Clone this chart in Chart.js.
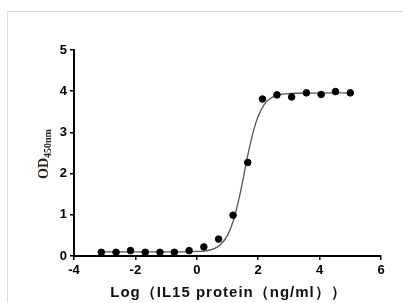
<!DOCTYPE html>
<html>
<head>
<meta charset="utf-8">
<script src="https://cdn.jsdelivr.net/npm/chart.js@4/dist/chart.umd.min.js"></script>
<style>
  html, body { margin: 0; padding: 0; background: #fff; overflow: hidden; }
  #wrap { position: relative; width: 403px; height: 303px; overflow: hidden; }
  #frame { position: absolute; left: 7px; top: 11px; width: 420px; height: 320px; border: 1px solid #dedede; }
  #od { position: absolute; left: 0; top: 0; }
</style>
</head>
<body>
<div id="wrap">
  <div id="frame"></div>
  <canvas id="od" width="403" height="303"></canvas>
</div>
<script>
// measured points: log dose vs OD450
const doseLog = [-3.11, -2.63, -2.16, -1.68, -1.20, -0.73, -0.25, 0.23, 0.71, 1.18, 1.66, 2.14, 2.61, 3.09, 3.57, 4.05, 4.52, 5.00];
const od450 = [0.09, 0.09, 0.13, 0.09, 0.09, 0.09, 0.13, 0.22, 0.41, 0.99, 2.27, 3.81, 3.91, 3.86, 3.96, 3.92, 3.99, 3.96];

// fitted curve
const curveX = [-3.11, -0.5, 0, 0.25, 0.5, 0.75, 1.0, 1.2, 1.4, 1.55, 1.7, 1.85, 2.0, 2.2, 2.4, 2.7, 3.2, 5.0];
const curveY = [0.10, 0.10, 0.11, 0.12, 0.16, 0.26, 0.50, 0.88, 1.48, 2.03, 2.58, 3.05, 3.39, 3.68, 3.83, 3.92, 3.95, 3.96];

const xTicks = [-4, -2, 0, 2, 4, 6];
const yTicks = [0, 1, 2, 3, 4, 5];
const xTitleText = "Log（IL15 protein（ng/ml））";

const tickFont = { family: "'Liberation Sans', Arial, sans-serif", size: 13, weight: "bold" };

// axis titles drawn by hand (subscript + wide spacing)
const axisTitles = {
  id: "axisTitles",
  afterDraw(chart) {
    const c = chart.ctx;
    const area = chart.chartArea;
    c.save();
    c.fillStyle = "#111";
    c.textAlign = "center";
    c.textBaseline = "alphabetic";
    c.font = "bold 15px 'Liberation Sans', Arial, sans-serif";
    c.letterSpacing = "1px";
    c.fillText(xTitleText, (area.left + area.right) / 2 + 1, 297);
    c.restore();

    c.save();
    c.translate(43, 154);
    c.rotate(-Math.PI / 2);
    c.fillStyle = "#2a1f18";
    c.textBaseline = "alphabetic";
    c.font = "bold 14px 'Liberation Serif', 'Times New Roman', serif";
    const w1 = c.measureText("OD").width;
    c.font = "bold 10px 'Liberation Serif', 'Times New Roman', serif";
    const w2 = c.measureText("450nm").width;
    const start = -(w1 + w2) / 2;
    c.font = "bold 14px 'Liberation Serif', 'Times New Roman', serif";
    c.fillText("OD", start, 5);
    c.font = "bold 10px 'Liberation Serif', 'Times New Roman', serif";
    c.fillText("450nm", start + w1, 8);
    c.restore();
  }
};

const ctx = document.getElementById("od").getContext("2d");
new Chart(ctx, {
  type: "scatter",
  data: {
    datasets: [
      {
        label: "data",
        data: doseLog.map((x, i) => ({ x: x, y: od450[i] })),
        backgroundColor: "#000",
        borderColor: "#000",
        pointRadius: 3.3,
        showLine: false,
      },
      {
        label: "fit",
        data: curveX.map((x, i) => ({ x: x, y: curveY[i] })),
        showLine: true,
        borderColor: "#555",
        borderWidth: 1.3,
        pointRadius: 0,
        cubicInterpolationMode: "monotone",
        fill: false,
      },
    ],
  },
  options: {
    responsive: false,
    animation: false,
    layout: { padding: { left: 0, top: 50, right: 22, bottom: 0 } },
    plugins: {
      legend: { display: false },
      tooltip: { enabled: false },
    },
    scales: {
      x: {
        type: "linear",
        min: -4,
        max: 6,
        afterBuildTicks: (s) => { s.ticks = xTicks.map((v) => ({ value: v })); },
        afterFit: (s) => { s.height = 47; },
        border: { display: true, color: "#000", width: 2 },
        grid: { drawOnChartArea: false, drawTicks: true, tickLength: 4, color: "#000", lineWidth: 1.5 },
        ticks: { color: "#000", font: tickFont, padding: 3 },
      },
      y: {
        type: "linear",
        min: 0,
        max: 5,
        afterBuildTicks: (s) => { s.ticks = yTicks.map((v) => ({ value: v })); },
        afterFit: (s) => { s.width = 74; },
        border: { display: true, color: "#000", width: 2 },
        grid: { drawOnChartArea: false, drawTicks: true, tickLength: 4, color: "#000", lineWidth: 1.5 },
        ticks: { color: "#000", font: tickFont, padding: 3 },
      },
    },
  },
  plugins: [axisTitles],
});
</script>
</body>
</html>
